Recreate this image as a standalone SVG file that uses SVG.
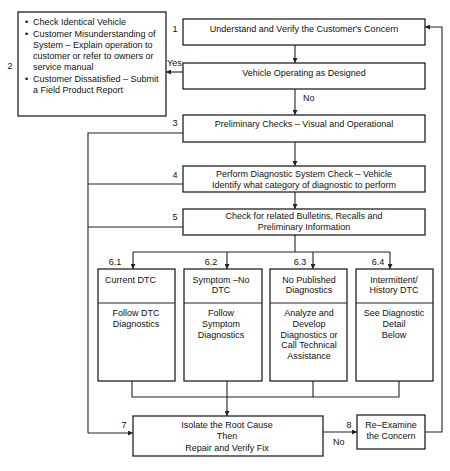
<svg xmlns="http://www.w3.org/2000/svg" width="450" height="471" viewBox="0 0 450 471">
<defs>
<marker id="ah" viewBox="0 0 10 10" refX="10" refY="5" markerWidth="5" markerHeight="5" orient="auto" markerUnits="userSpaceOnUse">
<path d="M0,0 L10,5 L0,10 z" fill="#222"/>
</marker>
<style>
text{font-family:"Liberation Sans",Arial,Helvetica,sans-serif;font-size:9px;fill:#111}
.c{text-anchor:middle}
.box{fill:#fff;stroke:#222;stroke-width:1.3}
.ln{fill:none;stroke:#222;stroke-width:1.1}
.ar{fill:none;stroke:#222;stroke-width:1.1;marker-end:url(#ah)}
</style>
</defs>
<rect width="450" height="471" fill="#fff"/>

<g id="connectors">
<line class="ar" x1="295" y1="45" x2="295" y2="63"/>
<line class="ar" x1="183" y1="72" x2="166" y2="72"/>
<line class="ar" x1="295" y1="89" x2="295" y2="115"/>
<line class="ar" x1="295" y1="142" x2="295" y2="166"/>
<line class="ar" x1="295" y1="192" x2="295" y2="209"/>
<line class="ln" x1="295" y1="235" x2="295" y2="252"/>
<line class="ln" x1="133" y1="252" x2="390" y2="252"/>
<line class="ar" x1="133" y1="252" x2="133" y2="269"/>
<line class="ar" x1="227" y1="252" x2="227" y2="269"/>
<line class="ar" x1="313" y1="252" x2="313" y2="269"/>
<line class="ar" x1="390" y1="252" x2="390" y2="269"/>
<polyline class="ln" points="183,133 88,133 88,433"/>
<line class="ln" x1="88" y1="184" x2="183" y2="184"/>
<line class="ln" x1="88" y1="227" x2="183" y2="227"/>
<line class="ar" x1="88" y1="433" x2="133" y2="433"/>
<polyline class="ln" points="132,381 132,397 399,397 399,381"/>
<line class="ln" x1="313" y1="381" x2="313" y2="397"/>
<line class="ar" x1="227" y1="381" x2="227" y2="416"/>
<line class="ar" x1="323" y1="432" x2="357" y2="432"/>
<polyline class="ar" points="425,432 442,432 442,27 425,27"/>
<text x="167" y="66">Yes</text>
<text x="303" y="101">No</text>
<text x="333" y="445">No</text>
</g>

<g id="n1">
<rect class="box" x="183" y="19" width="242" height="26"/>
<text class="c" x="304" y="32">Understand and Verify the Customer's Concern</text>
<text class="c" x="175" y="32">1</text>
</g>

<g id="n2">
<rect class="box" x="18" y="12" width="148" height="104"/>
<text x="25" y="25">•</text><text x="33" y="25">Check Identical Vehicle</text>
<text x="25" y="37">•</text><text x="33" y="37">Customer Misunderstanding of</text>
<text x="33" y="48">System – Explain operation to</text>
<text x="33" y="59">customer or refer to owners or</text>
<text x="33" y="70">service manual</text>
<text x="25" y="82">•</text><text x="33" y="82">Customer Dissatisfied – Submit</text>
<text x="33" y="93">a Field Product Report</text>
<text class="c" x="10" y="69">2</text>
</g>

<g id="nVehicle">
<rect class="box" x="183" y="63" width="242" height="26"/>
<text class="c" x="304" y="75.5">Vehicle Operating as Designed</text>
</g>

<g id="n3">
<rect class="box" x="183" y="115" width="242" height="27"/>
<text class="c" x="304" y="127">Preliminary Checks – Visual and Operational</text>
<text class="c" x="175" y="126">3</text>
</g>

<g id="n4">
<rect class="box" x="183" y="166" width="242" height="26"/>
<text class="c" x="304" y="177.3">Perform Diagnostic System Check – Vehicle</text>
<text class="c" x="304" y="187.6">Identify what category of diagnostic to perform</text>
<text class="c" x="175" y="178">4</text>
</g>

<g id="n5">
<rect class="box" x="183" y="209" width="242" height="26"/>
<text class="c" x="304" y="219.3">Check for related Bulletins, Recalls and</text>
<text class="c" x="304" y="230">Preliminary Information</text>
<text class="c" x="175" y="220">5</text>
</g>

<g id="n61">
<rect class="box" x="98" y="269" width="77" height="112"/>
<line class="ln" x1="98" y1="303" x2="175" y2="303"/>
<text x="105" y="282.5">Current DTC</text>
<text class="c" x="136" y="316">Follow DTC</text>
<text class="c" x="136" y="326.8">Diagnostics</text>
<text class="c" x="115" y="265">6.1</text>
</g>

<g id="n62">
<rect class="box" x="184" y="269" width="78" height="112"/>
<line class="ln" x1="184" y1="303" x2="262" y2="303"/>
<text class="c" x="221" y="282.5">Symptom –No</text>
<text class="c" x="221" y="292.8">DTC</text>
<text class="c" x="221" y="316">Follow</text>
<text class="c" x="221" y="326.8">Symptom</text>
<text class="c" x="221" y="337.6">Diagnostics</text>
<text class="c" x="211" y="265">6.2</text>
</g>

<g id="n63">
<rect class="box" x="270" y="269" width="77" height="112"/>
<line class="ln" x1="270" y1="303" x2="347" y2="303"/>
<text class="c" x="309" y="282.5">No Published</text>
<text class="c" x="309" y="293">Diagnostics</text>
<text class="c" x="309" y="316">Analyze and</text>
<text class="c" x="309" y="326.8">Develop</text>
<text class="c" x="309" y="337.6">Diagnostics or</text>
<text class="c" x="309" y="348.4">Call Technical</text>
<text class="c" x="309" y="359.2">Assistance</text>
<text class="c" x="300" y="265">6.3</text>
</g>

<g id="n64">
<rect class="box" x="356" y="269" width="77" height="112"/>
<line class="ln" x1="356" y1="303" x2="433" y2="303"/>
<text class="c" x="394" y="282.5">Intermittent/</text>
<text class="c" x="394" y="293">History DTC</text>
<text class="c" x="394" y="316">See Diagnostic</text>
<text class="c" x="394" y="326.8">Detail</text>
<text class="c" x="394" y="337.6">Below</text>
<text class="c" x="378" y="265">6.4</text>
</g>

<g id="n7">
<rect class="box" x="133" y="416" width="190" height="40"/>
<text class="c" x="227" y="427.5">Isolate the Root Cause</text>
<text class="c" x="227" y="439">Then</text>
<text class="c" x="227" y="450.5">Repair and Verify Fix</text>
<text class="c" x="124" y="428">7</text>
</g>

<g id="n8">
<rect class="box" x="357" y="415" width="68" height="34"/>
<text class="c" x="391" y="428.3">Re–Examine</text>
<text class="c" x="391" y="439">the Concern</text>
<text class="c" x="349" y="428">8</text>
</g>
</svg>
